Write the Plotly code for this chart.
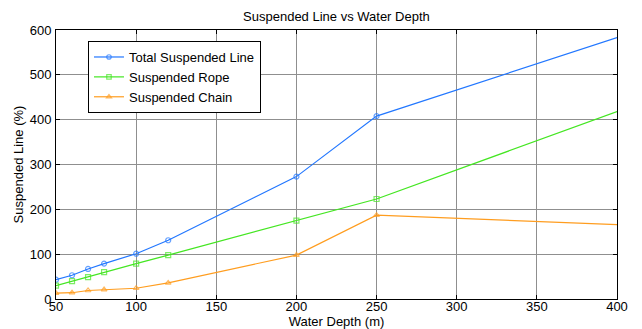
import plotly.graph_objects as go

depth = [50, 60, 70, 80, 100, 120, 200, 250, 400]
total_line = [43, 53, 67, 79, 101, 131, 273, 408, 583]
rope = [30, 40, 49, 60, 79, 98, 175, 223, 418]
chain = [13, 14, 19, 21, 24, 36, 98, 187, 166]

x_ticks = [50, 100, 150, 200, 250, 300, 350, 400]
y_ticks = [0, 100, 200, 300, 400, 500, 600]

series = [
    ("Total Suspended Line", total_line, "#2277ff", "circle-open"),
    ("Suspended Rope", rope, "#44e622", "square-open"),
    ("Suspended Chain", chain, "#ff9d1f", "triangle-up-open"),
]

# markers on the measured depths, none on the final far point
marker_sizes = [5] * (len(depth) - 1) + [0]

fig = go.Figure()
for name, vals, color, sym in series:
    fig.add_trace(go.Scatter(
        x=depth, y=vals, name=name, mode="lines+markers",
        line=dict(color=color, width=1.2),
        marker=dict(symbol=sym, size=marker_sizes, color=color,
                    line=dict(color=color, width=1.2)),
    ))

font = "Liberation Sans, Arial, sans-serif"
axis_common = dict(
    showline=True, linecolor="black", linewidth=1, mirror="allticks",
    ticks="inside", ticklen=4, tickcolor="black",
    showgrid=True, gridcolor="#8f8f8f", gridwidth=1,
    zeroline=False, automargin=False,
    tickfont=dict(size=13, color="black", family=font),
)

fig.update_layout(
    width=642, height=329,
    margin=dict(l=56, r=25, t=30, b=30),
    paper_bgcolor="white", plot_bgcolor="white",
    font=dict(family=font, size=13, color="black"),
    title=dict(text="Suspended Line vs Water Depth", x=0.524, xanchor="center",
               y=0.951, yanchor="middle", font=dict(size=13), automargin=False),
    xaxis=dict(range=[50, 400], tickvals=x_ticks, ticklabelstandoff=-5,
               title=dict(text="Water Depth (m)", standoff=0, font=dict(size=13)),
               **axis_common),
    yaxis=dict(range=[0, 600], tickvals=y_ticks, ticklabelstandoff=1,
               title=dict(text="Suspended Line (%)", standoff=3, font=dict(size=13)),
               **axis_common),
    legend=dict(x=0.057, y=0.959, xanchor="left", yanchor="top",
                bgcolor="white", bordercolor="black", borderwidth=1,
                font=dict(size=13), itemwidth=30, tracegroupgap=0),
    showlegend=True,
)

fig.write_html("out.html")
